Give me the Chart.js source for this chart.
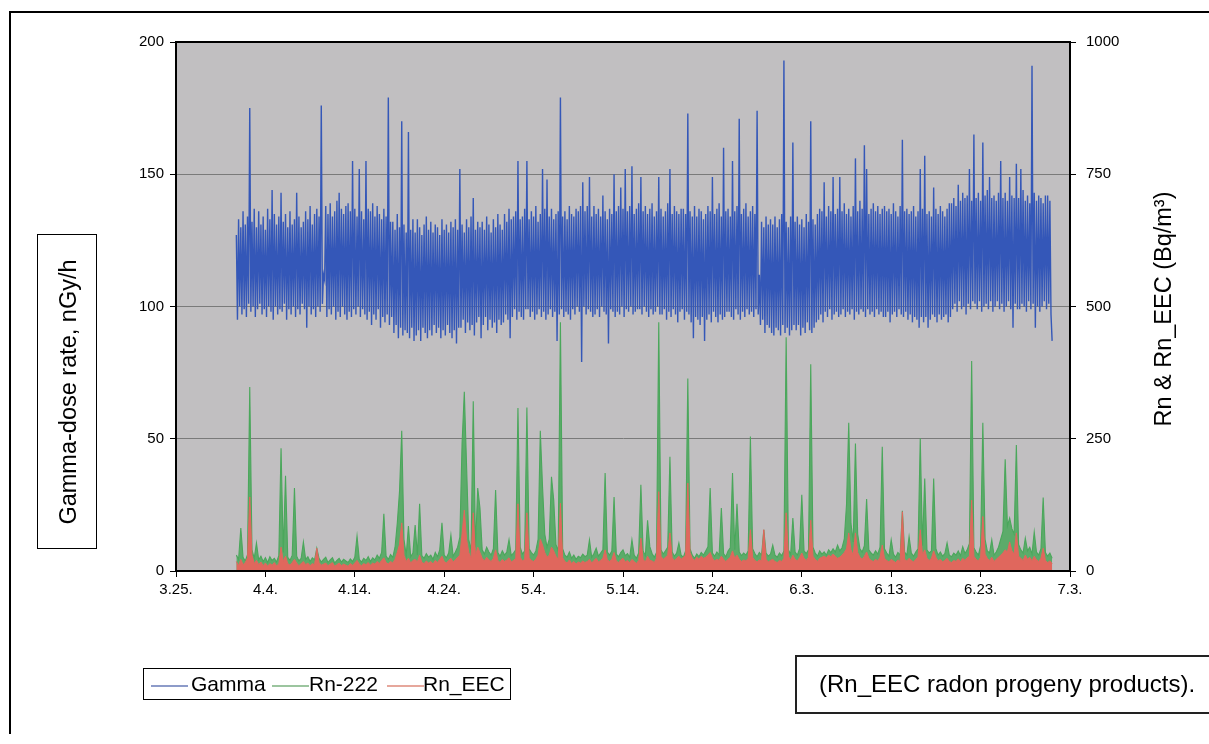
<!DOCTYPE html>
<html><head><meta charset="utf-8">
<script src="https://cdn.jsdelivr.net/npm/chart.js@4.4.1/dist/chart.umd.min.js"></script>
<style>
html,body{margin:0;padding:0;background:#fff;}
body{width:1209px;height:744px;position:relative;overflow:hidden;font-family:"Liberation Sans",Arial,sans-serif;color:#000;}
#c{position:absolute;left:0;top:0;}
.frame{position:absolute;left:9px;top:11px;width:1230px;height:721px;border-left:2px solid #000;border-top:2px solid #000;}
.ytitle{position:absolute;left:37px;top:234px;width:58px;height:313px;border:1.5px solid #000;}
.rot{position:absolute;white-space:nowrap;transform:translate(-50%,-50%) rotate(-90deg);font-size:23.5px;}
.legend{position:absolute;left:143px;top:668px;width:366px;height:30px;border:1.5px solid #000;font-size:21px;}
.legend span{position:absolute;top:3px;}
.legend i{position:absolute;top:16px;height:2px;width:37px;}
.note{position:absolute;left:795px;top:655px;width:430px;height:55px;border:2px solid #222;font-size:24px;}
.note span{position:absolute;left:22px;top:13px;white-space:nowrap;}
</style></head>
<body>
<canvas id="c" width="1209" height="744"></canvas>
<div class="frame"></div>
<div class="ytitle"><div class="rot" style="left:30px;top:157px;">Gamma-dose rate, nGy/h</div></div>
<div class="rot" style="left:1163px;top:309px;">Rn &amp; Rn_EEC (Bq/m³)</div>
<div class="legend">
  <i style="left:7px;background:#8d9bc9"></i><span style="left:47px">Gamma</span>
  <i style="left:128px;background:#9cc59f"></i><span style="left:165px">Rn-222</span>
  <i style="left:243px;background:#e6a79c"></i><span style="left:279px">Rn_EEC</span>
</div>
<div class="note"><span>(Rn_EEC radon progeny products).</span></div>
<script>
// x-axis tick labels (every 10 days from 3.25.)
const tickLabels = ['3.25.','4.4.','4.14.','4.24.','5.4.','5.14.','5.24.','6.3.','6.13.','6.23.','7.3.'];
// sampling: first sample day (days after 3.25.) and intervals in days
const startDay = 6.75;
const gammaStepDays = 0.125;
const radonStepDays = 0.25;

// Gamma-dose rate, nGy/h (3-hourly)
const gamma = [
127,95,133,100,130,97,136,99,131,96,134,101,175,98,132,100,137,96,130,99,
136,101,131,97,134,99,129,96,137,100,133,98,144,95,135,100,131,97,134,99,
143,98,132,101,135,95,130,99,136,97,131,100,133,96,143,99,134,97,130,101,
132,99,136,92,133,100,138,97,131,99,135,96,137,100,134,98,176,101,112,110,
138,96,135,99,139,97,134,100,136,95,140,98,143,96,137,100,135,97,138,95,
139,98,136,96,155,99,137,97,134,100,152,96,136,99,133,97,155,95,137,98,
136,93,139,97,134,95,138,99,135,92,133,96,137,94,134,97,179,93,132,96,
132,90,129,93,135,88,130,92,170,89,131,91,128,90,166,88,129,92,133,87,
128,89,133,91,130,87,127,92,131,90,134,88,129,91,132,89,128,93,131,90,
130,92,127,88,133,91,129,89,131,93,128,90,132,88,130,91,133,86,129,92,
152,92,131,95,128,90,133,94,130,91,134,93,141,89,129,94,132,96,130,88,
132,93,129,96,134,91,131,95,128,92,133,94,130,90,135,95,131,93,129,94,
135,97,132,95,137,88,133,96,134,99,136,95,155,98,133,96,134,95,137,99,
155,99,133,96,136,98,134,95,138,97,132,99,135,96,152,98,137,95,148,97,
134,99,137,96,133,98,135,87,136,97,179,99,134,96,136,98,133,97,138,95,
135,99,134,97,137,100,136,98,138,79,147,100,136,97,138,99,149,98,134,96,
138,97,135,99,137,96,134,100,142,98,136,97,133,86,137,99,135,98,150,96,
136,98,138,97,145,100,137,96,152,99,136,98,138,100,153,97,135,98,137,99,
139,99,149,97,136,100,138,98,135,96,137,99,139,97,134,98,136,100,149,97,
137,97,134,99,136,95,139,98,152,96,135,99,138,97,136,94,135,98,137,99,
137,95,135,98,173,97,136,94,134,88,138,96,134,95,137,93,136,96,133,87,
135,95,138,97,136,94,149,98,135,96,137,94,139,97,134,95,160,96,136,98,
137,98,134,96,155,95,136,99,138,97,171,95,135,98,137,96,139,99,134,97,
136,98,138,96,135,99,174,97,112,93,132,95,130,90,134,93,131,92,133,90,
131,89,134,92,130,91,133,89,135,93,193,90,132,92,130,89,134,91,162,93,
132,91,134,93,131,89,133,92,130,90,135,94,132,91,170,90,133,92,131,94,
135,95,137,97,136,94,147,98,134,96,138,99,136,95,149,97,135,98,137,96,
149,97,136,99,139,96,135,98,137,97,134,99,138,95,156,98,136,97,140,99,
137,98,161,96,152,99,135,97,137,98,139,96,136,99,138,97,135,98,137,96,
138,96,136,98,137,94,135,97,139,98,136,96,134,99,138,97,163,96,136,98,
137,95,135,97,136,94,138,96,134,95,136,92,152,96,137,94,157,96,135,92,
136,95,134,97,145,96,137,94,135,97,138,95,136,96,134,97,137,94,139,96,
139,99,141,101,138,98,146,102,140,99,143,100,141,97,142,101,152,99,140,102,
165,101,141,99,143,102,140,98,162,100,142,101,144,99,149,102,141,98,142,100,
140,102,143,99,155,101,141,98,143,100,140,102,149,99,142,92,141,101,154,99,
141,99,152,101,144,100,140,98,142,102,139,99,191,101,143,92,140,100,142,98,
141,100,139,102,142,99,142,101,140,97,87
];

// Rn-222, Bq/m3 (6-hourly)
const rn222 = [
30,22,81,26,19,31,348,40,24,53,
21,28,18,25,16,27,20,24,17,29,
232,35,180,26,20,30,157,28,19,24,
55,22,27,18,25,21,43,24,17,22,
26,16,21,25,15,20,24,17,22,19,
16,23,18,26,66,22,17,24,20,27,
18,25,21,30,24,35,108,28,22,31,
26,45,90,150,265,60,30,85,27,34,
87,30,127,29,24,33,26,30,22,35,
27,40,91,30,25,34,68,28,36,45,
64,242,339,200,60,38,321,45,157,119,
40,32,45,36,30,42,153,35,28,38,
30,36,59,29,34,40,308,45,32,38,
309,42,35,30,38,60,265,159,70,45,
60,178,134,50,38,470,42,30,26,36,
24,30,22,28,25,32,27,30,59,26,
33,43,28,34,40,185,36,30,38,140,
32,27,35,40,29,33,26,59,30,24,
34,163,38,29,96,46,33,26,35,470,
40,32,38,45,216,36,28,34,53,30,
26,38,364,42,30,24,32,27,35,30,
38,46,157,34,28,36,30,119,33,27,
38,44,185,40,127,36,29,34,30,38,
254,42,33,27,35,30,78,34,28,32,
49,30,26,34,29,38,442,40,31,100,
36,30,42,144,38,33,40,391,45,34,
28,38,32,36,30,40,35,42,36,49,
38,44,60,125,280,90,55,241,70,42,
36,48,136,40,34,30,38,32,45,235,
42,34,28,59,32,26,35,30,114,36,
30,65,34,28,36,42,251,48,175,40,
34,38,175,42,30,36,28,33,53,30,
27,34,30,38,29,46,33,40,52,397,
44,36,30,48,280,60,38,34,59,30,
36,45,60,75,211,85,100,80,70,238,
50,40,34,62,38,45,32,74,36,30,
42,139,35,28,34,24
];

// Rn_EEC (radon progeny), Bq/m3 (6-hourly)
const rnEEC = [
18,10,22,12,16,25,140,30,14,20,
12,17,10,15,9,14,11,16,10,13,
45,18,28,14,11,16,22,15,10,14,
18,12,15,10,14,12,43,16,11,13,
15,10,13,16,9,12,15,10,13,11,
9,14,11,15,20,13,10,14,12,16,
11,15,13,18,14,20,25,16,13,18,
15,22,35,50,91,30,18,24,15,20,
22,17,30,16,14,19,15,18,13,20,
16,22,28,18,15,20,24,17,21,26,
30,70,115,60,35,24,110,28,45,35,
24,19,26,21,18,24,40,20,16,22,
18,21,25,17,20,24,127,26,19,22,
110,25,20,18,22,30,60,49,35,26,
30,45,38,28,22,128,25,18,15,21,
14,18,13,17,15,19,16,18,22,15,
20,24,17,20,24,40,21,18,22,35,
19,16,21,24,17,20,15,22,18,14,
20,62,22,17,28,20,19,16,24,150,
28,22,26,30,72,25,20,24,28,22,
26,30,166,35,24,20,26,22,28,24,
26,30,35,24,19,22,20,28,22,18,
22,26,38,24,30,22,18,21,19,24,
78,26,20,17,21,19,78,22,17,20,
22,18,16,20,18,24,110,28,20,30,
22,19,25,34,24,20,26,96,28,22,
18,24,26,28,25,30,27,32,28,24,
26,30,35,42,72,40,30,72,35,26,
22,28,36,24,20,18,22,19,26,49,
24,20,17,22,19,16,21,18,112,22,
19,24,20,17,22,26,78,30,40,24,
20,24,38,26,19,22,17,20,24,18,
16,20,18,23,17,24,20,25,28,134,
28,22,19,26,103,32,24,20,26,18,
22,26,30,34,40,36,55,38,32,72,
28,24,20,30,22,26,19,28,21,18,
24,43,20,16,19,14
];

const toPoints = (arr, step) => arr.map((v, i) => ({ x: startDay + i * step, y: v }));
const FONT = { family: '"Liberation Sans", Arial, sans-serif', size: 15 };

const plotDecor = {
  id: 'plotDecor',
  beforeDraw(chart) {
    const { ctx, chartArea: a } = chart;
    ctx.save();
    ctx.fillStyle = '#fff';
    ctx.fillRect(0, 0, chart.width, chart.height);
    ctx.fillStyle = '#c1bfc1';
    ctx.fillRect(a.left, a.top, a.right - a.left, a.bottom - a.top);
    ctx.restore();
  },
  afterDraw(chart) {
    const { ctx, chartArea: a } = chart;
    ctx.save();
    ctx.strokeStyle = '#000';
    ctx.lineWidth = 2;
    ctx.strokeRect(a.left, a.top, a.right - a.left, a.bottom - a.top);
    ctx.restore();
  }
};

new Chart(document.getElementById('c'), {
  type: 'line',
  data: {
    datasets: [
      { label: 'Gamma', data: toPoints(gamma, gammaStepDays), yAxisID: 'y', borderColor: '#3457b8', borderWidth: 1.4, pointRadius: 0, order: 2 },
      { label: 'Rn-222', data: toPoints(rn222, radonStepDays), yAxisID: 'y1', borderColor: '#4aa75b', backgroundColor: 'rgba(74,167,91,0.85)', fill: 'origin', borderWidth: 1.1, pointRadius: 0, order: 1 },
      { label: 'Rn_EEC', data: toPoints(rnEEC, radonStepDays), yAxisID: 'y1', borderColor: '#e0675d', backgroundColor: '#e0675d', fill: 'origin', borderWidth: 1, pointRadius: 0, order: 0 }
    ]
  },
  options: {
    responsive: false,
    animation: false,
    devicePixelRatio: 1,
    layout: { padding: { top: 42, left: 0, right: 0, bottom: 133 } },
    plugins: { legend: { display: false }, tooltip: { enabled: false } },
    elements: { line: { tension: 0 } },
    scales: {
      x: {
        type: 'linear', min: 0, max: 100,
        afterFit: s => { s.height = 40; },
        ticks: { stepSize: 10, autoSkip: false, maxRotation: 0, color: '#000', font: FONT, padding: 4,
                 callback: v => tickLabels[Math.round(v / 10)] },
        grid: { drawOnChartArea: false, tickLength: 6, tickColor: '#000' },
        border: { color: '#000', width: 2 }
      },
      y: {
        position: 'left', min: 0, max: 200,
        afterFit: s => { s.width = 176; },
        ticks: { stepSize: 50, color: '#000', font: FONT, padding: 6, callback: v => String(v) },
        grid: { color: ctx => (ctx.tick && (ctx.tick.value === 0 || ctx.tick.value === 200)) ? 'rgba(0,0,0,0)' : '#7a7a7a',
                tickColor: '#000', tickLength: 6, lineWidth: 1 },
        border: { color: '#000', width: 2 }
      },
      y1: {
        position: 'right', min: 0, max: 1000,
        afterFit: s => { s.width = 139; },
        ticks: { stepSize: 250, color: '#000', font: FONT, padding: 10, callback: v => String(v) },
        grid: { drawOnChartArea: false, tickColor: '#000', tickLength: 6 },
        border: { color: '#000', width: 2 }
      }
    }
  },
  plugins: [plotDecor]
});
</script>
</body></html>
